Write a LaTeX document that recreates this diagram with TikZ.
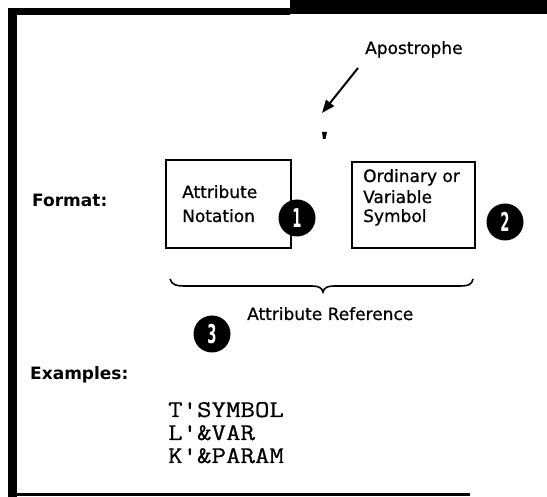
\documentclass[tikz,border=0pt]{standalone}
\usepackage{fontspec}
\usepackage{graphicx}
\setmainfont{DejaVu Sans}
\setmonofont{Latin Modern Mono}[FakeBold=0.6]
\newfontfamily\lblfont{DejaVu Sans}[FakeBold=0.8]
\usetikzlibrary{arrows.meta}
\tikzset{
  lbl/.style={anchor=base west, inner sep=0pt, font=\fontsize{17}{20}\selectfont\lblfont},
  head/.style={anchor=base west, inner sep=0pt, font=\fontsize{17}{20}\selectfont\bfseries},
  mono/.style={anchor=base west, inner sep=0pt, font=\fontsize{24}{26}\selectfont\ttfamily},
  box/.style={draw, line width=1.7pt, inner sep=0pt},
  num/.style={circle, fill=black, text=white, minimum size=37pt, inner sep=0pt,
    font=\fontsize{24}{26}\selectfont\bfseries},
  frame/.style={fill=black, draw=none}
}
\newcommand{\numtxt}[1]{\scalebox{0.55}[1.08]{#1}}
\newcommand{\monotxt}[1]{\scalebox{1.17}[1]{#1}}
\begin{document}
\begin{tikzpicture}[x=1pt,y=-1pt]
\useasboundingbox (0,0) rectangle (547,497);
% frame
\fill[frame] (8,8) rectangle (290,15);
\fill[frame] (290,0) rectangle (547,14);
\fill[frame] (8,8) rectangle (17,497);
\fill[frame] (9,493) rectangle (470,496);
% apostrophe label and arrow
\node[lbl] (apos) at (365,54) {Apostrophe};
\coordinate (arrs) at (358,68);
\coordinate (arre) at (322,113);
\draw[line width=2pt, -{Triangle[length=13pt,width=10pt]}] (arrs) -- (arre);
\fill (322,132) -- (327,132) -- (325.5,139) -- (323,139) -- cycle;
% format
\node[head] (fmt) at (32,207) {Format:};
\node[box, minimum width=125pt, minimum height=88pt] (b1) at (228.5,204) {};
\node[lbl] (t1a) at (182,198) {Attribute};
\node[lbl] (t1b) at (182,222) {Notation};
\node[num] (c1) at (297,218) {\numtxt{1}};
\node[box, minimum width=123pt, minimum height=86pt] (b2) at (413.5,205) {};
\node[lbl] (t2a) at (363,182) {Ordinary or};
\node[lbl] (t2b) at (363,203) {Variable};
\node[lbl] (t2c) at (363,222) {Symbol};
\node[num] (c2) at (505,222) {\numtxt{2}};
% brace
\draw[line width=1.6pt] (170,279) .. controls (172,285) and (176,286) .. (186,286)
  -- (312,286) .. controls (319,286) and (322,288) .. (323,292)
  .. controls (324,288) and (327,286) .. (334,286) -- (458,286)
  .. controls (468,286) and (472,285) .. (473,279);
\node[num] (c3) at (212,334) {\numtxt{3}};
\node[lbl] (ref) at (247,320) {Attribute Reference};
% examples
\node[head] (ex) at (30,380) {Examples:};
\node[mono] (e1) at (168,417) {\monotxt{T'SYMBOL}};
\node[mono] (e2) at (168,440) {\monotxt{L'\&VAR}};
\node[mono] (e3) at (168,463) {\monotxt{K'\&PARAM}};
\end{tikzpicture}
\end{document}
